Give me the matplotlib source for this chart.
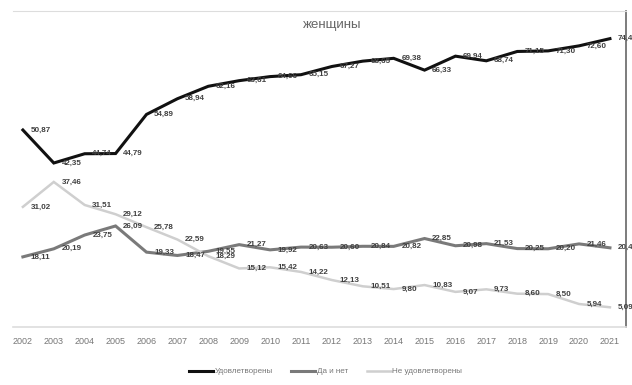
import matplotlib
matplotlib.use("Agg")
import matplotlib.pyplot as plt

# years and survey shares (%), women
years = list(range(2002, 2022))
satisfied = [50.87, 42.35, 44.74, 44.79, 54.89, 58.94, 62.16, 63.61, 64.66, 65.15,
             67.27, 68.65, 69.38, 66.33, 69.94, 68.74, 71.15, 71.30, 72.60, 74.46]
mixed = [18.11, 20.19, 23.75, 26.09, 19.33, 18.47, 19.55, 21.27, 19.92, 20.63,
         20.60, 20.84, 20.82, 22.85, 20.98, 21.53, 20.25, 20.20, 21.46, 20.45]
unsatisfied = [31.02, 37.46, 31.51, 29.12, 25.78, 22.59, 18.29, 15.12, 15.42, 14.22,
               12.13, 10.51, 9.80, 10.83, 9.07, 9.73, 8.60, 8.50, 5.94, 5.09]

series = [
    ("Удовлетворены", satisfied, "#111111", 2.2),
    ("Да и нет", mixed, "#7a7a7a", 2.2),
    ("Не удовлетворены", unsatisfied, "#cfcfcf", 1.8),
]

plt.rcParams['font.family'] = ['Liberation Sans', 'DejaVu Sans']

fig = plt.figure(figsize=(6.32, 3.85), dpi=100)
ax = fig.add_axes([13/632, 58/385, 613/632, 316/385])

for name, vals, col, lw in series:
    ax.plot(years, vals, color=col, lw=lw, label=name, solid_joinstyle='miter')
    for x, v in zip(years, vals):
        ax.annotate(f"{v:.2f}".replace(".", ","), (x, v), xytext=(5.5, 0),
                    textcoords="offset points", ha="left", va="center",
                    fontsize=5.8, fontweight="bold", color="#404040",
                    annotation_clip=False)

ax.set_xlim(2001.68, 2021.52)
ax.set_ylim(0, 81.6)
ax.set_xticks(years)
ax.set_yticks([])
ax.tick_params(axis='x', length=0, labelsize=6.5, colors="#777777", pad=7)

ax.spines["left"].set_visible(False)
ax.spines["top"].set_color("#dddddd")
ax.spines["bottom"].set_color("#dddddd")
ax.spines["bottom"].set_linewidth(1.2)
ax.spines["right"].set_color("#666666")
ax.spines["right"].set_linewidth(1.2)

ax.text(0.52, 0.975, "женщины", transform=ax.transAxes, ha="center", va="top",
        fontsize=9.5, color="#666666")

fig.legend(loc="center", bbox_to_anchor=(0.515, 0.035), ncol=3, frameon=False,
           fontsize=5.8, handlelength=3.0, columnspacing=2.3, handletextpad=0.2,
           labelcolor="#777777")

fig.savefig("out.png", dpi=100)
